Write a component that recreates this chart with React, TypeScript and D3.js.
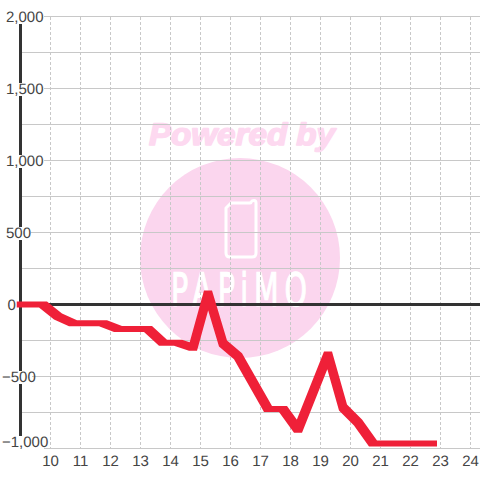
import React from "react";
import * as d3 from "d3";

const hours = [9, 9.75, 10.25, 10.75, 11.75, 12.25, 13.25, 13.75, 14.25, 14.75, 15.25, 15.75, 16.25, 17.25, 17.75, 18.25, 19.25, 19.75, 20.25, 20.75, 22.75];
const profit = [0, 0, -83, -130, -130, -170, -170, -265, -265, -300, 76, -270, -360, -725, -725, -870, -347, -715, -820, -965, -965];
const xTicks = [10, 11, 12, 13, 14, 15, 16, 17, 18, 19, 20, 21, 22, 23, 24];
const yLabels = [2000, 1500, 1000, 500, 0, -500, -1000];
const yGrid = [2000, 1750, 1500, 1250, 1000, 750, 500, 250, 0, -250, -500, -750, -1000];

const x = d3.scaleLinear().domain([10, 24]).range([50.5, 470.5]);
const y = d3.scaleLinear().domain([-1000, 2000]).range([448.5, 16.5]);
const fmt = d3.format(",");
const FONT = "'Liberation Sans', Arial, sans-serif";
const labelWidth: Record<number, number> = { 2000: 38, 1500: 38, 1000: 38, 500: 25, 0: 9, "-500": 30, "-1000": 42 };
const PEN_W = 4;
const PEN_H = 3;

export default function App() {
  const pts = profit.map((v, i) => [x(hours[i]), y(v)] as [number, number]);
  const segs = pts.slice(1).map((b, i) => {
    const a = pts[i];
    const corners: [number, number][] = [];
    [a, b].forEach((p) => {
      [-PEN_W, PEN_W].forEach((dx) => [-PEN_H, PEN_H].forEach((dy) => corners.push([p[0] + dx, p[1] + dy])));
    });
    return "M" + (d3.polygonHull(corners) as [number, number][]).join("L") + "Z";
  });
  return (
    <svg width={480} height={480} style={{ position: "absolute", left: 0, top: 0, background: "#fff" }} fontFamily={FONT} textRendering="geometricPrecision">
      <circle cx={240} cy={258} r={100} fill="#fbd6ee" />
      <text x={149} y={145} fontSize={31} fontWeight="bold" fontStyle="italic" fill="#fdd9f0" stroke="#fdd9f0" strokeWidth={1.6} strokeLinejoin="round" textLength={186} lengthAdjust="spacingAndGlyphs">Powered by</text>
      <path d="M231 203 H250 Q251 203 251 202 Q252 200.5 254 200.5 Q256 200.5 256 203 V253 Q256 257 252 257 H230 Q226 257 226 253 V208 Z" fill="none" stroke="#fff" strokeWidth={3} strokeLinejoin="round" />
      <text x={0} y={0} transform="translate(171,306) scale(0.62,1)" fontSize={46} fill="#fff" stroke="#fff" strokeWidth={1.2} letterSpacing={9.5} fontFamily="'DejaVu Sans'">PAPiMO</text>

      {yGrid.map((v) => (
        <line key={v} x1={20} x2={480} y1={y(v)} y2={y(v)} stroke="#c8c8c8" strokeWidth={1} />
      ))}
      {xTicks.map((t) => (
        <line key={t} x1={x(t)} x2={x(t)} y1={17} y2={448} stroke="#c8c8c8" strokeWidth={1} strokeDasharray="3 2" />
      ))}
      <line x1={20.5} x2={20.5} y1={16} y2={436} stroke="#333" strokeWidth={3} />
      <line x1={20} x2={480} y1={304.5} y2={304.5} stroke="#333" strokeWidth={3} />
      <path d={segs.join("")} fill="#ef2038" stroke="none" />

      {yLabels.map((v) => {
        const base = v === -1000 ? 447 : y(v) + 5.5;
        const left = v < 0 ? 2 : v === 0 ? 7.5 : 6;
        return (
          <g key={v}>
            <rect x={left} y={base - 11} width={labelWidth[v]} height={13} fill="#fff" />
            <text x={left} y={base} fontSize={15} fill="#444">{fmt(v)}</text>
          </g>
        );
      })}
      {xTicks.map((t) => (
        <text key={t} x={x(t)} y={466} fontSize={15} fill="#444" textAnchor="middle">{t}</text>
      ))}
    </svg>
  );
}
